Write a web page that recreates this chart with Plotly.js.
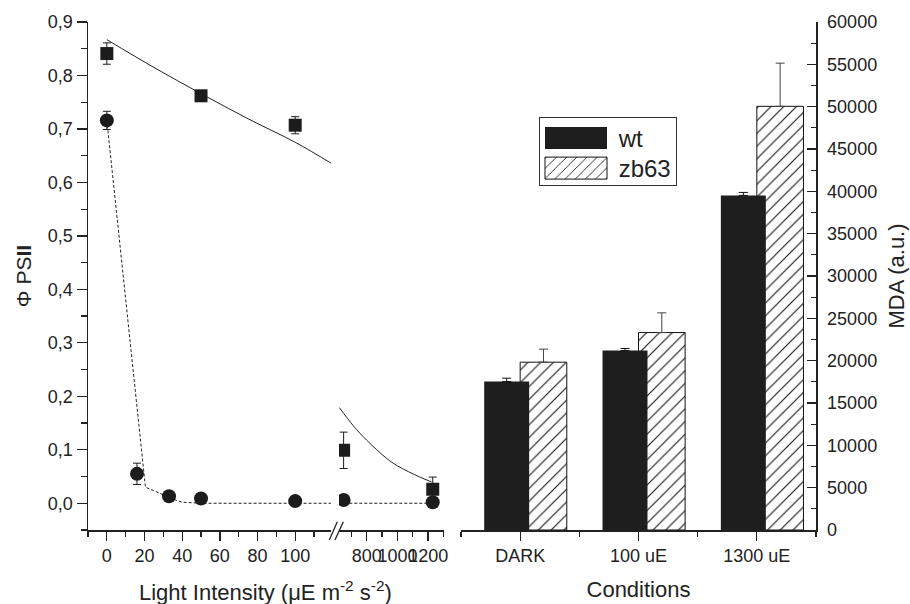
<!DOCTYPE html>
<html><head><meta charset="utf-8">
<script src="https://cdn.plot.ly/plotly-3.0.1.min.js"></script>
<style>html,body{margin:0;padding:0;background:#fff}#chart{width:910px;height:604px}</style>
</head><body><div id="chart"></div>
<script>
// ---------- left panel: Φ PSII vs light intensity ----------
const squareX   = [0, 50, 100, 650, 1230];
const squareY   = [0.841, 0.762, 0.707, 0.099, 0.026];
const squareErr = [0.020, 0.005, 0.016, 0.034, 0.023];

const circleX   = [0, 16, 33, 50, 100, 650, 1230];
const circleY   = [0.716, 0.055, 0.013, 0.009, 0.004, 0.006, 0.002];
const circleErr = [0.017, 0.020, 0.004, 0.003, 0.002, 0.002, 0.002];

const fitSolidX = [0, 25, 50, 75, 100, 120, 622, 713, 800, 930, 1000, 1146, 1222];
const fitSolidY = [0.867, 0.815, 0.766, 0.719, 0.675, 0.634, 0.179, 0.145, 0.118, 0.084, 0.070, 0.049, 0.040];

const fitDashX  = [0, 20.5, 28, 34, 40, 50, 120, 622, 1230];
const fitDashY  = [0.716, 0.030, 0.019, 0.009, 0.002, 0, 0, 0, 0];

const BREAK = 400; // x values above this belong to the right-hand axis segment

// ---------- right panel: MDA ----------
const conditions = ['DARK', '100 uE', '1300 uE'];
const wtMDA  = [17530, 21190, 39520];
const wtErr  = [400, 250, 350];
const zbMDA  = [19820, 23320, 50040];
const zbErr  = [1540, 2330, 5100];

function part(xs, ys, es, high) {
  const idx = xs.map((_, i) => i).filter(i => high ? xs[i] >= BREAK : xs[i] < BREAK);
  return { x: idx.map(i => xs[i]), y: idx.map(i => ys[i]), e: es ? idx.map(i => es[i]) : null };
}

const INK = '#1c1c1c';
const traces = [];
[false, true].forEach(high => {
  const xa = high ? 'x2' : 'x';
  const fs = part(fitSolidX, fitSolidY, null, high);
  traces.push({ type: 'scatter', mode: 'lines', x: fs.x, y: fs.y, xaxis: xa, yaxis: 'y',
    line: { color: '#222', width: 1, shape: 'spline' }, showlegend: false, hoverinfo: 'skip' });
  const fd = part(fitDashX, fitDashY, null, high);
  traces.push({ type: 'scatter', mode: 'lines', x: fd.x, y: fd.y, xaxis: xa, yaxis: 'y',
    line: { color: '#222', width: 1, dash: '3px,2px' }, showlegend: false, hoverinfo: 'skip' });
  const sq = part(squareX, squareY, squareErr, high);
  traces.push({ type: 'scatter', mode: 'markers', x: sq.x, y: sq.y, xaxis: xa, yaxis: 'y',
    marker: { symbol: 'square', size: 13, color: INK },
    error_y: { type: 'data', array: sq.e, visible: true, color: INK, thickness: 1, width: 4 },
    showlegend: false });
  const ci = part(circleX, circleY, circleErr, high);
  traces.push({ type: 'scatter', mode: 'markers', x: ci.x, y: ci.y, xaxis: xa, yaxis: 'y',
    marker: { symbol: 'circle', size: 14, color: INK },
    error_y: { type: 'data', array: ci.e, visible: true, color: INK, thickness: 1, width: 4 },
    showlegend: false });
});

const catIdx = conditions.map((_, i) => i);
traces.push({
  type: 'bar', name: '\u00a0zb63', legendrank: 2, x: catIdx, y: zbMDA, xaxis: 'x3', yaxis: 'y2',
  offset: 0, width: 0.394,
  marker: { color: '#fff', line: { color: '#111', width: 1 },
            pattern: { shape: '/', fgcolor: '#111', bgcolor: '#fff', size: 9, solidity: 0.12 } },
  error_y: { type: 'data', symmetric: false, array: zbErr, arrayminus: zbErr.map(() => 0),
             visible: true, color: '#444', thickness: 1, width: 4.5 }
});
traces.push({
  type: 'bar', name: '\u00a0wt', legendrank: 1, x: catIdx, y: wtMDA, xaxis: 'x3', yaxis: 'y2',
  offset: -0.304, width: 0.38,
  marker: { color: '#1e1e1e', line: { color: '#1e1e1e', width: 0 } },
  error_y: { type: 'data', symmetric: false, array: wtErr, arrayminus: wtErr.map(() => 0),
             visible: true, color: '#111', thickness: 1, width: 4.5 }
});

const axBase = {
  showgrid: false, zeroline: false, showline: true, linecolor: '#222', linewidth: 1.5,
  ticks: 'outside', ticklen: 9, tickwidth: 1.3, tickcolor: '#222', tickangle: 0,
  tickfont: { size: 18, color: '#222' }
};
const minorBase = { ticks: 'outside', ticklen: 5, tickwidth: 1.3, tickcolor: '#222', showgrid: false };

// paper-coordinate helpers for decorations (plot area 88..816 px wide, 22..530 px tall)
const PX = px => (px - 88) / 728, PY = py => (530 - py) / 508;

const layout = {
  width: 910, height: 604,
  margin: { l: 88, r: 94, t: 22, b: 74, pad: 0 },
  paper_bgcolor: '#fff', plot_bgcolor: 'rgba(0,0,0,0)',
  font: { family: '"Liberation Sans", Arial, sans-serif', size: 18, color: '#222' },
  separators: ',.',
  barmode: 'overlay',
  showlegend: true,
  legend: { x: PX(539), y: PY(117), xanchor: 'left', yanchor: 'top', bgcolor: '#fff',
            bordercolor: '#333', borderwidth: 1, font: { size: 24, color: '#222' },
            itemwidth: 62, tracegroupgap: 0 },
  xaxis: Object.assign({}, axBase, {
    domain: [0, PX(331)], range: [-10, 119], anchor: 'y',
    tickmode: 'linear', tick0: 0, dtick: 20,
    minor: Object.assign({}, minorBase, { tickmode: 'linear', tick0: 0, dtick: 10 })
  }),
  xaxis2: Object.assign({}, axBase, {
    domain: [PX(339), PX(443.5)], range: [620, 1300], anchor: 'y',
    tickmode: 'linear', tick0: 0, dtick: 200,
    minor: Object.assign({}, minorBase, { tickmode: 'linear', tick0: 0, dtick: 100 })
  }),
  xaxis3: Object.assign({}, axBase, {
    domain: [PX(461), 1], range: [-0.5, 2.5], anchor: 'y2',
    tickmode: 'array', tickvals: catIdx, ticktext: conditions,
    minor: Object.assign({}, minorBase, { tickmode: 'linear', tick0: 0.5, dtick: 1 }),
    title: { text: 'Conditions', font: { size: 22, color: '#222' }, standoff: 16 }
  }),
  yaxis: Object.assign({}, axBase, {
    domain: [0, 1], range: [-0.05, 0.9], anchor: 'x',
    tickmode: 'linear', tick0: 0, dtick: 0.1, tickformat: '.1f', ticklen: 10,
    minor: Object.assign({}, minorBase, { tickmode: 'linear', tick0: 0, dtick: 0.05, ticklen: 6 }),
    title: { text: 'Φ PS<b>II</b>', font: { size: 21, color: '#222' }, standoff: 10 }
  }),
  yaxis2: Object.assign({}, axBase, {
    domain: [0, 1], range: [0, 60000], anchor: 'x3', side: 'right',
    tickmode: 'linear', tick0: 0, dtick: 5000, tickformat: 'd', ticks: 'inside', ticklen: 9,
    ticklabelstandoff: 6,
    minor: Object.assign({}, minorBase, { ticks: 'inside', tickmode: 'linear', tick0: 0, dtick: 2500 }),
    title: { text: 'MDA (a.u.)', font: { size: 22, color: '#222' }, standoff: 12 }
  }),
  annotations: [{
    xref: 'paper', yref: 'paper', x: PX(265.5), y: PY(591), xanchor: 'center', yanchor: 'middle',
    showarrow: false, text: 'Light Intensity (μE m<sup>-2</sup> s<sup>-2</sup>)',
    font: { size: 22, color: '#222' }
  }],
  shapes: [
    { type: 'line', xref: 'paper', yref: 'paper', x0: PX(329.3), y0: PY(540), x1: PX(337.3), y1: PY(521.7),
      line: { color: '#222', width: 1.3 } },
    { type: 'line', xref: 'paper', yref: 'paper', x0: PX(335), y0: PY(540), x1: PX(343.3), y1: PY(521.7),
      line: { color: '#222', width: 1.3 } }
  ]
};

Plotly.newPlot('chart', traces, layout, { staticPlot: true, displayModeBar: false }).then(gd => {
  // legend cosmetics: wide rectangular swatches and tighter row spacing, as in the original
  gd.querySelectorAll('.legend .legendpoints path').forEach(p => p.setAttribute('d', 'M31,11H-31V-11H31Z'));
  const items = Array.from(gd.querySelectorAll('.legend .traces'));
  const parse = el => {
    const m = /translate\(\s*([-\d.]+)[ ,]+([-\d.]+)\s*\)/.exec(el.getAttribute('transform') || '');
    return m ? [parseFloat(m[1]), parseFloat(m[2])] : null;
  };
  const first = items.length ? parse(items[0]) : null;
  if (first) {
    items.forEach((el, i) => {
      const t = parse(el);
      if (t) el.setAttribute('transform', 'translate(' + t[0] + ',' + (first[1] - 2 + 30 * i) + ')');
    });
    const bg = gd.querySelector('.legend rect.bg');
    if (bg) bg.setAttribute('height', 68);
  }
});
</script>
</body></html>
